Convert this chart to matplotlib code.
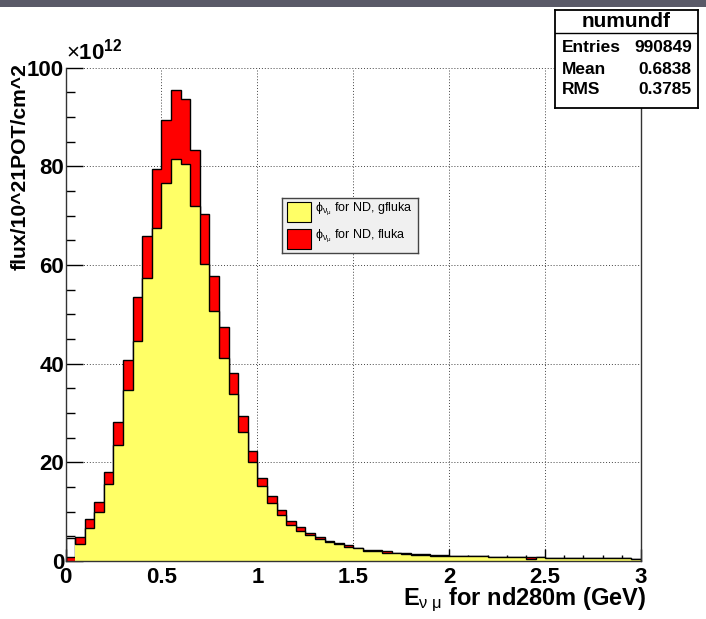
import numpy as np
import matplotlib
matplotlib.use("Agg")
import matplotlib.pyplot as plt
from matplotlib.patches import Rectangle
from matplotlib.ticker import MultipleLocator

plt.rcParams['font.family'] = ['Liberation Sans', 'DejaVu Sans']
plt.rcParams['mathtext.fontset'] = 'custom'
plt.rcParams['mathtext.rm'] = 'Liberation Sans'
plt.rcParams['mathtext.it'] = 'Liberation Sans'
plt.rcParams['mathtext.bf'] = 'Liberation Sans:bold'

# histogram binning (GeV) and contents (x 1e12 flux / 1e21 POT / cm^2)
bin_edges = np.linspace(0.0, 3.0, 61)

flux_fluka = [
    0.8, 4.8, 8.6, 12.0, 18.1, 28.1, 40.8, 53.5, 65.8, 79.5,
    89.3, 95.5, 93.6, 83.3, 70.4, 57.8, 47.5, 38.1, 29.3, 22.3,
    16.8, 13.2, 10.3, 8.1, 6.8, 5.6, 4.8, 4.0, 3.6, 3.3,
    2.7, 2.3, 2.2, 2.0, 1.6, 1.6, 1.4, 1.4, 1.2, 1.2,
    1.0, 1.0, 1.0, 1.0, 0.8, 0.8, 0.8, 0.8, 0.8, 0.8,
    0.6, 0.6, 0.6, 0.6, 0.6, 0.6, 0.6, 0.6, 0.6, 0.5,
]
flux_gfluka = [
    4.7, 3.4, 6.7, 10.0, 15.6, 23.5, 34.6, 44.5, 57.3, 67.4,
    76.6, 81.4, 80.5, 71.9, 60.3, 50.6, 41.2, 33.9, 26.1, 20.0,
    15.3, 11.8, 9.4, 7.3, 6.1, 5.2, 4.4, 3.8, 3.4, 2.8,
    2.6, 2.1, 2.0, 1.7, 1.6, 1.5, 1.3, 1.3, 1.1, 1.1,
    1.0, 1.0, 1.0, 1.0, 0.8, 0.8, 0.8, 0.8, 0.5, 0.8,
    0.6, 0.6, 0.6, 0.6, 0.6, 0.6, 0.6, 0.6, 0.6, 0.5,
]

stats_name = 'numundf'
stats_rows = [('Entries', '990849'), ('Mean', '0.6838'), ('RMS', '0.3785')]
legend_labels = [r'$\mathrm{\phi}_{\nu_\mu}$ for ND, gfluka',
                 r'$\mathrm{\phi}_{\nu_\mu}$ for ND, fluka']
YELLOW = '#ffff66'
RED = '#ff0000'

fig = plt.figure(figsize=(7.06, 6.19), dpi=100)
# dark bar across the very top of the canvas
fig.patches.append(Rectangle((0, 0.989), 1, 0.011, transform=fig.transFigure,
                             facecolor='#5a5a68', edgecolor='none'))

ax = fig.add_axes([0.0928, 0.0937, 0.8152, 0.797])

# fluka histogram behind, gfluka drawn on top
ax.stairs(flux_fluka, bin_edges, fill=True, facecolor=RED,
          edgecolor='black', linewidth=1.0, zorder=2)
ax.stairs(flux_gfluka[1:], bin_edges[1:], fill=True, facecolor=YELLOW,
          edgecolor='none', zorder=3)
ax.stairs(flux_gfluka, bin_edges, fill=False, edgecolor='black',
          linewidth=1.0, zorder=4)

ax.set_xlim(0, 3)
ax.set_ylim(0, 100)
ax.xaxis.set_major_locator(MultipleLocator(0.5))
ax.xaxis.set_minor_locator(MultipleLocator(0.1))
ax.yaxis.set_major_locator(MultipleLocator(20))
ax.yaxis.set_minor_locator(MultipleLocator(5))
ax.xaxis.set_major_formatter(plt.FuncFormatter(lambda v, p: f'{v:g}'))

ax.grid(True, which='major', linestyle=(0, (1, 2)), color='#444444', linewidth=0.7)
ax.set_axisbelow(True)
ax.spines['top'].set_visible(False)
for s in ('left', 'bottom', 'right'):
    ax.spines[s].set_linewidth(1.0)
    ax.spines[s].set_color('#333333')
    ax.spines[s].set_zorder(6)

ax.tick_params(axis='y', which='major', direction='in', length=12, width=1,
               labelsize=16, pad=1)
ax.tick_params(axis='y', which='minor', direction='in', length=6.5, width=1)
ax.tick_params(axis='x', which='major', direction='in', length=8.5, width=1,
               labelsize=16, pad=4)
ax.tick_params(axis='x', which='minor', direction='in', length=4, width=1)
for lab in ax.get_xticklabels() + ax.get_yticklabels():
    lab.set_fontweight('bold')

ax.text(0.0, 1.006, r'$\times$10$^{\mathbf{12}}$', transform=ax.transAxes,
        fontsize=16, fontweight='bold', ha='left', va='bottom')

fig.text(0.029, 0.898, 'flux/10^21POT/cm^2', rotation=90, ha='center',
         va='top', fontsize=15.2, fontweight='bold')
fig.text(0.916, 0.031, r'E$_{\mathrm{\nu\ \mu}}$ for nd280m (GeV)', ha='right',
         va='center', fontsize=17, fontweight='bold')

# statistics box
sb = fig.add_axes([0.786, 0.8255, 0.2025, 0.1583])
sb.set_xticks([])
sb.set_yticks([])
sb.set_xlim(0, 1)
sb.set_ylim(0, 1)
for s in sb.spines.values():
    s.set_linewidth(1.3)
sb.axhline(0.765, color='black', linewidth=1.0)
sb.text(0.5, 0.885, stats_name, ha='center', va='center', fontsize=15,
        fontweight='bold')
for (name, val), yy in zip(stats_rows, [0.62, 0.39, 0.185]):
    sb.text(0.047, yy, name, ha='left', va='center', fontsize=12.5, fontweight='bold')
    sb.text(0.957, yy, val, ha='right', va='center', fontsize=12.5, fontweight='bold')

# legend box
lg = fig.add_axes([0.399, 0.5918, 0.1935, 0.0879])
lg.set_facecolor('#f0f0f0')
lg.set_xticks([])
lg.set_yticks([])
lg.set_xlim(0, 1)
lg.set_ylim(0, 1)
for s in lg.spines.values():
    s.set_linewidth(1.0)
    s.set_color('#444444')
for color, label, y0 in zip([YELLOW, RED], legend_labels, [0.57, 0.0625]):
    lg.add_patch(Rectangle((0.037, y0), 0.175, 0.3675, facecolor=color,
                           edgecolor='black', linewidth=0.8))
    lg.text(0.245, y0 + 0.23, label, ha='left', va='center', fontsize=9)

fig.savefig('out.png', dpi=100)
